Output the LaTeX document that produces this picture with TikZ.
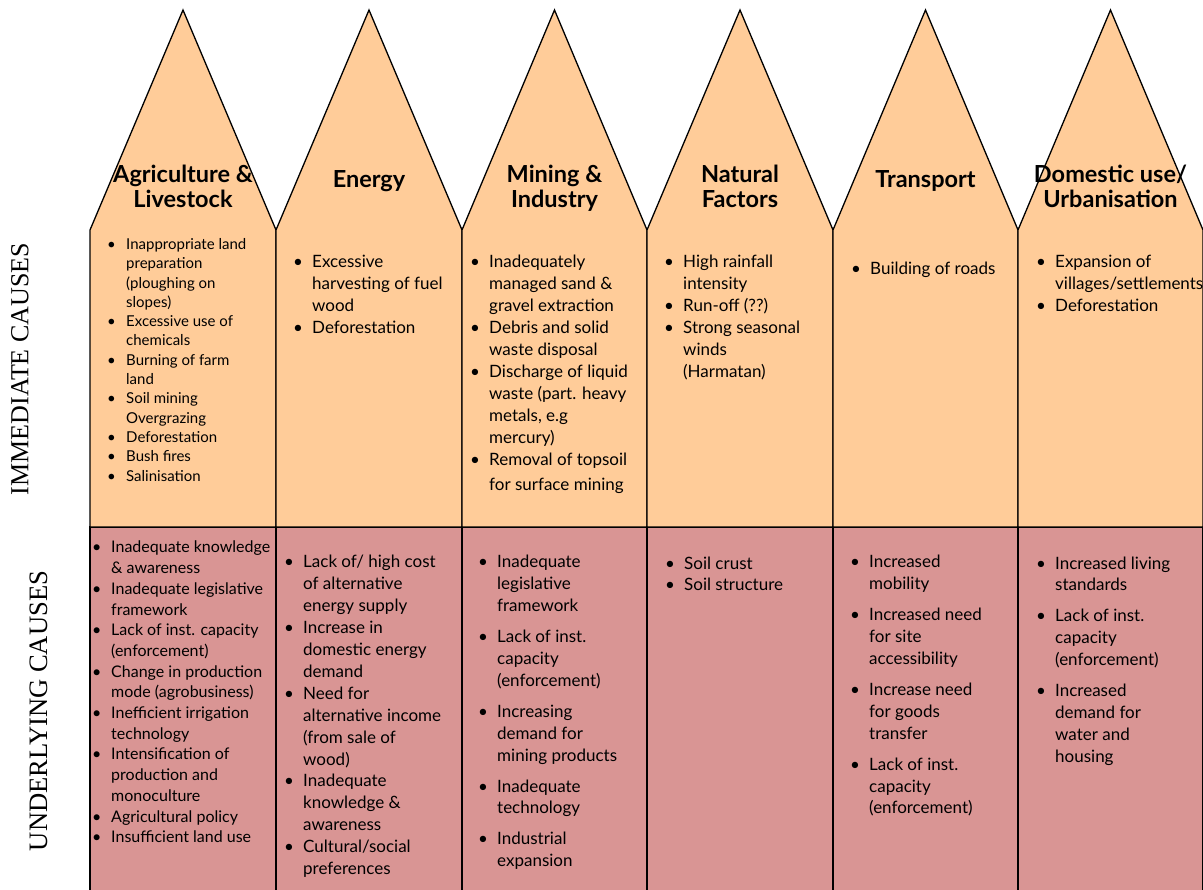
\documentclass[tikz,border=0pt]{standalone}
\usepackage{fontspec}
\setmainfont{Lato}
\newfontfamily\tnr{Liberation Serif}
\definecolor{peach}{HTML}{FFCC99}
\definecolor{rose}{HTML}{D99594}
\newlength\hind
\setlength\hind{19pt}
\newcommand\bitem[1]{\par\noindent\hangindent=\hind\hangafter=1\makebox[\hind][l]{\textbullet}#1}
\newcommand\bgap{\par\vspace{9pt}}
\newcommand\blist[1]{\begin{minipage}[t]{185pt}\raggedright\let\\\newline #1\end{minipage}}
\tikzset{
  lst/.style={anchor=base west, inner sep=0pt},
  bodyfont/.style={font=\fontsize{17}{21.9}\selectfont},
  head/.style={anchor=base, inner sep=0pt, align=center, font=\fontsize{23.5}{25}\selectfont\bfseries},
  side/.style={rotate=90, inner sep=0pt, font=\fontsize{26}{30}\selectfont\tnr},
  upper/.style={fill=peach, draw=black, line width=1.3pt, line join=miter},
  lower/.style={fill=rose, draw=black, line width=1.3pt},
}
\begin{document}
\begin{tikzpicture}[x=1pt, y=-1pt]
\useasboundingbox (0,0) rectangle (1203,890);
\clip (0,0) rectangle (1203,890);
% columns
\foreach \a/\b in {90/276, 276/462, 462/647, 647/833, 833/1018, 1018/1203}{
  \pgfmathsetmacro\c{(\a+\b)/2}
  \draw[lower] (\a,527) rectangle (\b,900);
  \draw[upper] (\a,527) -- (\a,230) -- (\c,10) -- (\b,230) -- (\b,527) -- cycle;
}
% side labels
\node[side] (imm) at (20,369) {IMMEDIATE CAUSES};
\node[side, font=\fontsize{26.6}{30}\selectfont\tnr] (und) at (39,711) {UNDERLYING CAUSES};
% headings
\node[head] (h1) at (183,208) {Agriculture \&\\Livestock};
\node[head] (h2) at (369,188) {Energy};
\node[head] (h3) at (554.5,208) {Mining \&\\Industry};
\node[head] (h4) at (740,208) {Natural\\Factors};
\node[head] (h5) at (925.5,188) {Transport};
\node[head] (h6) at (1110.5,208) {Domestic use/\\Urbanisation};
% immediate causes
\node[lst, font=\fontsize{15}{19.3}\selectfont] (i1) at (107,249.5) {\blist{%
\bitem{Inappropriate land\\preparation\\(ploughing on\\slopes)}
\bitem{Excessive use of\\chemicals}
\bitem{Burning of farm\\land}
\bitem{Soil mining\\Overgrazing}
\bitem{Deforestation}
\bitem{Bush fires}
\bitem{Salinisation}}};
\node[lst, bodyfont] (i2) at (293,268) {\blist{%
\bitem{Excessive\\harvesting of fuel\\wood}
\bitem{Deforestation}}};
\node[lst, bodyfont] (i3) at (470,268) {\blist{%
\bitem{Inadequately\\managed sand \&\\gravel extraction}
\bitem{Debris and solid\\waste disposal}
\bitem{Discharge of liquid\\waste (part. heavy\\metals, e.g\\mercury)}
\bitem{Removal of topsoil\vadjust{\vskip4pt}\\for surface mining}}};
\node[lst, bodyfont] (i4) at (664,268) {\blist{%
\bitem{High rainfall\\intensity}
\bitem{Run-off (??)}
\bitem{Strong seasonal\\winds\\(Harmatan)}}};
\node[lst, bodyfont] (i5) at (851,275) {\blist{%
\bitem{Building of roads}}};
\node[lst, bodyfont] (i6) at (1036,268) {\blist{%
\bitem{Expansion of\\villages/settlements}
\bitem{Deforestation}}};
% underlying causes
\node[lst, font=\fontsize{16}{20.7}\selectfont] (u1) at (92,553) {\blist{%
\bitem{Inadequate knowledge\\\& awareness}
\bitem{Inadequate legislative\\framework}
\bitem{Lack of inst. capacity\\(enforcement)}
\bitem{Change in production\\mode (agrobusiness)}
\bitem{Inefficient irrigation\\technology}
\bitem{Intensification of\\production and\\monoculture}
\bitem{Agricultural policy}
\bitem{Insufficient land use}}};
\node[lst, bodyfont] (u2) at (284,568) {\blist{%
\bitem{Lack of/ high cost\\of alternative\\energy supply}
\bitem{Increase in\\domestic energy\\demand}
\bitem{Need for\\alternative income\\(from sale of\\wood)}
\bitem{Inadequate\\knowledge \&\\awareness}
\bitem{Cultural/social\\preferences}}};
\node[lst, bodyfont] (u3) at (478,568) {\blist{%
\bitem{Inadequate\\legislative\\framework}\bgap
\bitem{Lack of inst.\\capacity\\(enforcement)}\bgap
\bitem{Increasing\\demand for\\mining products}\bgap
\bitem{Inadequate\\technology}\bgap
\bitem{Industrial\\expansion}}};
\node[lst, bodyfont] (u4) at (665,569) {\blist{%
\bitem{Soil crust}
\bitem{Soil structure}}};
\node[lst, bodyfont] (u5) at (850,568) {\blist{%
\bitem{Increased\\mobility}\bgap
\bitem{Increased need\\for site\\accessibility}\bgap
\bitem{Increase need\\for goods\\transfer}\bgap
\bitem{Lack of inst.\\capacity\\(enforcement)}}};
\node[lst, bodyfont] (u6) at (1036,569) {\blist{%
\bitem{Increased living\\standards}\bgap
\bitem{Lack of inst.\\capacity\\(enforcement)}\bgap
\bitem{Increased\\demand for\\water and\\housing}}};
\end{tikzpicture}
\end{document}
